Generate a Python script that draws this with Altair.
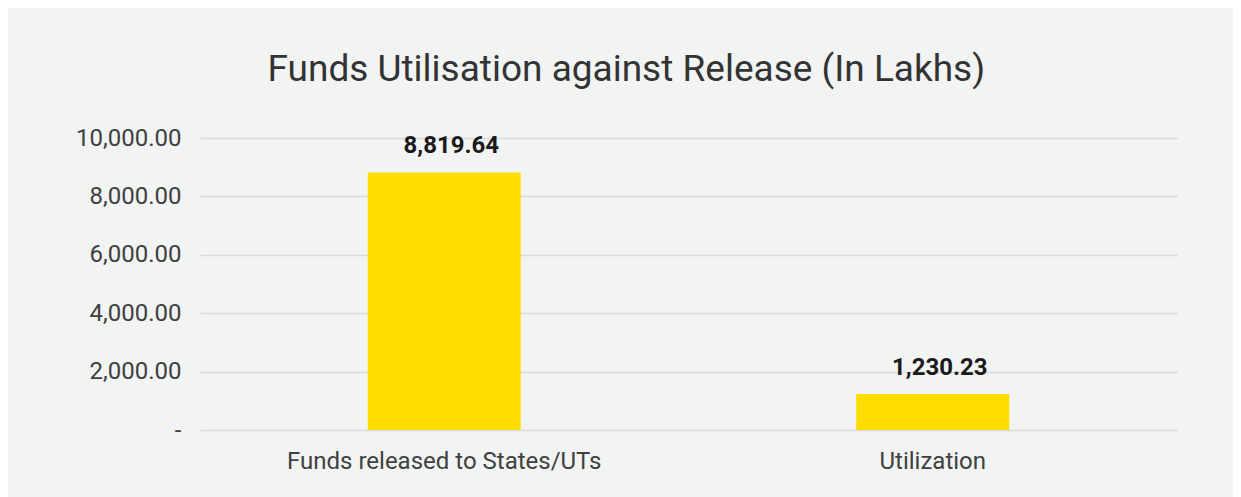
import altair as alt
import pandas as pd

categories = ["Funds released to States/UTs", "Utilization"]
values = [8819.64, 1230.23]
y_ticks = [0, 2000, 4000, 6000, 8000, 10000]

df = pd.DataFrame({"category": categories, "value": values})

FONT = "Roboto"
BG = "#f2f3f3"

base = alt.Chart(df).encode(
    x=alt.X(
        "category:N",
        sort=categories,
        title=None,
        scale=alt.Scale(paddingInner=0, paddingOuter=0),
        axis=alt.Axis(
            labelAngle=0,
            labelFont=FONT,
            labelFontSize=24,
            labelColor="#404040",
            labelPadding=19,
            labelLimit=0,
            ticks=False,
            domain=False,
            grid=False,
        ),
    ),
    y=alt.Y(
        "value:Q",
        title=None,
        scale=alt.Scale(domain=[0, 10000], nice=False),
        axis=alt.Axis(
            values=y_ticks,
            labelExpr="datum.value == 0 ? '-' : format(datum.value, ',.2f')",
            labelFont=FONT,
            labelFontSize=24,
            labelColor="#404040",
            labelPadding=19,
            ticks=False,
            tickSize=0,
            domain=False,
            grid=True,
            gridColor="#d9d9d9",
            gridWidth=1.5,
        ),
    ),
)

bars = base.mark_bar(color="#ffdd00", size=153)
labels = base.mark_text(
    font=FONT,
    fontSize=24,
    fontWeight="bold",
    color="#1a1a1a",
    baseline="alphabetic",
    dy=-19,
    dx=7,
).encode(text=alt.Text("value:Q", format=",.2f"))

chart = (
    (bars + labels)
    .properties(
        width=977,
        height=292,
        background=BG,
        padding={"left": 192, "top": 130, "right": 56, "bottom": 67},
        autosize=alt.AutoSizeParams(type="none"),
        title=alt.TitleParams(
            "Funds Utilisation against Release (In Lakhs)",
            font=FONT,
            fontSize=37,
            fontWeight="normal",
            color="#333333",
            anchor="middle",
            frame="bounds",
            offset=37,
        ),
    )
    .configure_view(stroke=None)
)

chart.save("out.html", embed_options={"renderer": "svg", "actions": False})
